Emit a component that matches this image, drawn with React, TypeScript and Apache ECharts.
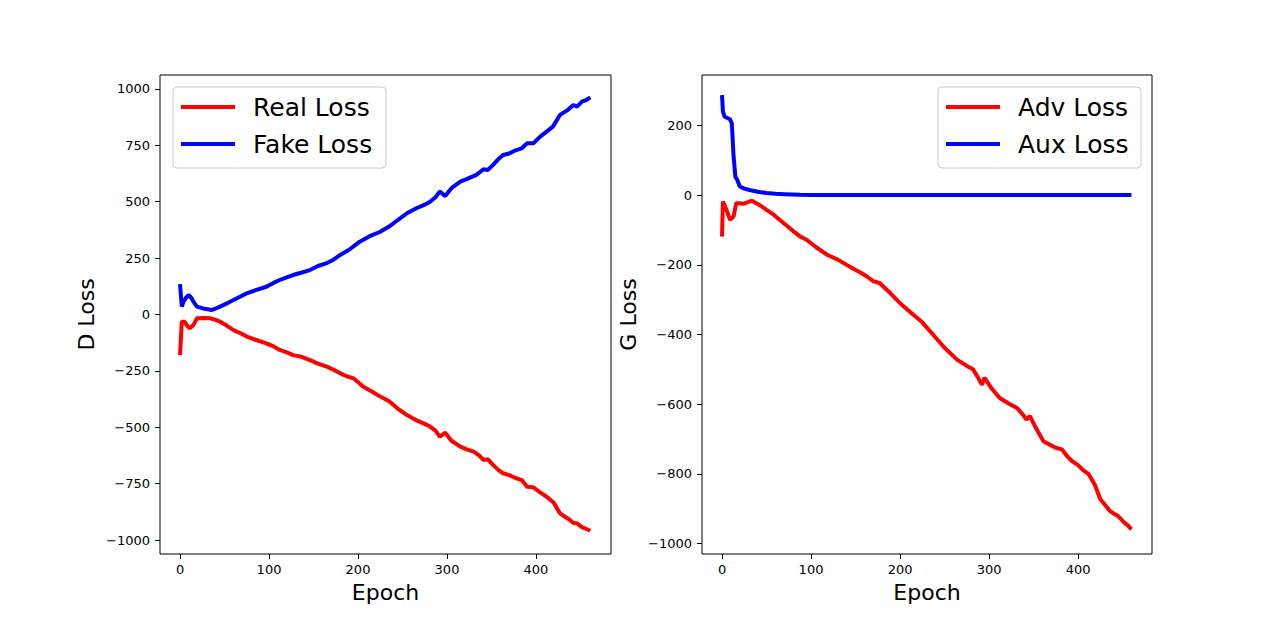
import React, { useEffect, useRef } from "react";
import * as echarts from "echarts";

// ---- Data ----
const xTicks = [0, 100, 200, 300, 400];
const dTicks = [-1000, -750, -500, -250, 0, 250, 500, 750, 1000];
const gTicks = [-1000, -800, -600, -400, -200, 0, 200];

const realEpochs = [0, 2, 5, 8, 11, 15, 19, 27, 34, 40, 45, 52, 60, 68, 75, 85, 97, 105, 112, 120, 127, 135, 146, 155, 165, 172, 180, 188, 195, 206, 215, 225, 235, 245, 255, 265, 275, 281, 287, 292, 298, 305, 315, 322, 330, 336, 341, 346, 352, 358, 363, 370, 377, 384, 390, 397, 405, 412, 420, 427, 433, 438, 442, 446, 452, 456, 461];
const realLoss = [-180, -32, -32, -50, -61, -47, -17, -15, -17, -24, -32, -48, -69, -83, -98, -112, -128, -141, -157, -168, -180, -186, -202, -218, -231, -244, -261, -275, -283, -320, -340, -364, -385, -418, -446, -468, -485, -497, -515, -542, -524, -560, -586, -598, -608, -625, -645, -642, -668, -690, -704, -712, -725, -734, -764, -766, -790, -808, -835, -882, -898, -911, -925, -926, -944, -950, -959];

const fakeEpochs = [0, 2, 4, 7, 10, 13, 15, 19, 26, 36, 45, 52, 60, 68, 75, 85, 97, 105, 112, 120, 127, 135, 146, 155, 165, 172, 180, 190, 202, 212, 225, 235, 245, 255, 265, 275, 281, 287, 292, 298, 305, 315, 322, 333, 341, 346, 352, 358, 363, 370, 377, 384, 390, 397, 405, 412, 419, 427, 435, 442, 446, 452, 456, 461];
const fakeLoss = [135, 35, 57, 76, 86, 72, 57, 35, 27, 20, 35, 48, 64, 80, 94, 108, 123, 140, 153, 165, 175, 184, 197, 215, 228, 242, 264, 287, 323, 345, 367, 390, 420, 449, 470, 487, 500, 520, 545, 525, 560, 589, 600, 619, 644, 641, 665, 690, 707, 714, 728, 737, 759, 759, 790, 811, 833, 885, 905, 929, 922, 945, 950, 963];

const advEpochs = [0, 1, 5, 9, 13, 16, 20, 24, 33, 35, 42, 50, 58, 65, 69, 80, 88, 95, 105, 118, 130, 140, 148, 155, 162, 170, 177, 189, 200, 215, 225, 237, 250, 264, 275, 282, 288, 292, 295, 303, 312, 322, 331, 338, 342, 346, 353, 361, 368, 375, 382, 388, 393, 400, 406, 412, 419, 425, 430, 436, 441, 445, 452, 456, 460];
const advLoss = [-119, -18, -42, -71, -61, -23, -23, -25, -16, -18, -28, -42, -56, -71, -80, -103, -119, -128, -148, -171, -185, -200, -212, -221, -232, -247, -252, -281, -310, -343, -365, -400, -438, -472, -490, -500, -525, -544, -524, -555, -582, -598, -610, -630, -644, -634, -670, -706, -716, -725, -730, -750, -763, -775, -790, -801, -832, -873, -888, -907, -915, -921, -940, -948, -959];

const auxEpochs = [0, 1, 3, 9, 11, 13, 15, 17, 20, 25, 31, 40, 50, 60, 70, 88, 100, 150, 200, 300, 400, 460];
const auxLoss = [287, 240, 225, 218, 206, 111, 53, 44, 25, 19, 15, 10, 6, 4, 3, 1, 0.8, 0.5, 0.4, 0.3, 0.3, 0.3];

const zip = (xs: number[], ys: number[]) => xs.map((x, i) => [x, ys[i]]);
const fmt = (v: number) => (v < 0 ? "\u2212" + Math.abs(v) : String(v));

const FONT = "DejaVu Sans";

function legendGroup(x: number, y: number, w: number, h: number, items: { name: string; color: string }[]) {
  const children: any[] = [
    {
      type: "rect",
      shape: { x, y, width: w, height: h, r: 4 },
      style: { fill: "rgba(255,255,255,0.8)", stroke: "#cccccc", lineWidth: 1 },
    },
  ];
  items.forEach((it, i) => {
    const cy = y + 20 + i * 37;
    children.push({
      type: "line",
      shape: { x1: x + 8, y1: cy, x2: x + 62, y2: cy },
      style: { stroke: it.color, lineWidth: 4 },
    });
    children.push({
      type: "text",
      x: x + 80,
      y: cy,
      style: { text: it.name, fontSize: 25, fontFamily: FONT, fill: "#000", verticalAlign: "middle", align: "left" },
    });
  });
  return { type: "group", z: 100, children };
}

function xAxisCfg(gridIndex: number, max: number) {
  return {
    gridIndex,
    type: "value",
    min: -22.5,
    max,
    splitLine: { show: false },
    axisLine: { show: false, onZero: false },
    axisTick: { show: true, inside: false, length: 5, lineStyle: { color: "#000", width: 1 }, customValues: xTicks },
    axisLabel: { color: "#000", fontSize: 13, fontFamily: FONT, margin: 9, customValues: xTicks },
    name: "Epoch",
    nameLocation: "middle",
    nameGap: 27,
    nameTextStyle: { fontSize: 22, color: "#000", fontFamily: FONT },
  };
}

function yAxisCfg(gridIndex: number, min: number, max: number, ticks: number[], name: string) {
  return {
    gridIndex,
    type: "value",
    min,
    max,
    splitLine: { show: false },
    axisLine: { show: false, onZero: false },
    axisTick: { show: true, inside: false, length: 5, lineStyle: { color: "#000", width: 1 }, customValues: ticks },
    axisLabel: { color: "#000", fontSize: 13, fontFamily: FONT, margin: 10, customValues: ticks, formatter: fmt },
    name,
    nameLocation: "middle",
    nameGap: 63,
    nameTextStyle: { fontSize: 22, color: "#000", fontFamily: FONT },
  };
}

export default function App() {
  const ref = useRef<HTMLDivElement>(null);
  useEffect(() => {
    if (!ref.current) return;
    const chart = echarts.init(ref.current, undefined, { renderer: "svg" });
    const line = (name: string, data: number[][], color: string, idx: number) => ({
      name,
      type: "line",
      xAxisIndex: idx,
      yAxisIndex: idx,
      data,
      symbol: "none",
      showSymbol: false,
      lineStyle: { color, width: 4 },
      itemStyle: { color },
      z: 3,
    });
    chart.setOption({
      animation: false,
      backgroundColor: "#ffffff",
      textStyle: { fontFamily: FONT },
      grid: [
        { left: 160, top: 75, width: 451, height: 479, show: true, borderColor: "#000", borderWidth: 1, backgroundColor: "#fff" },
        { left: 702, top: 75, width: 450, height: 479, show: true, borderColor: "#000", borderWidth: 1, backgroundColor: "#fff" },
      ],
      xAxis: [xAxisCfg(0, 484.3), xAxisCfg(1, 483.1)],
      yAxis: [yAxisCfg(0, -1062, 1062, dTicks, "D Loss"), yAxisCfg(1, -1030, 345, gTicks, "G Loss")],
      series: [
        line("Real Loss", zip(realEpochs, realLoss), "#ff0000", 0),
        line("Fake Loss", zip(fakeEpochs, fakeLoss), "#0000ff", 0),
        line("Adv Loss", zip(advEpochs, advLoss), "#ff0000", 1),
        line("Aux Loss", zip(auxEpochs, auxLoss), "#0000ff", 1),
      ],
      graphic: [
        legendGroup(173, 87, 213, 81, [
          { name: "Real Loss", color: "#ff0000" },
          { name: "Fake Loss", color: "#0000ff" },
        ]),
        legendGroup(938, 87, 203, 81, [
          { name: "Adv Loss", color: "#ff0000" },
          { name: "Aux Loss", color: "#0000ff" },
        ]),
      ],
    });
    return () => chart.dispose();
  }, []);
  return <div ref={ref} style={{ position: "absolute", left: 0, top: 0, width: 1280, height: 623 }} />;
}
